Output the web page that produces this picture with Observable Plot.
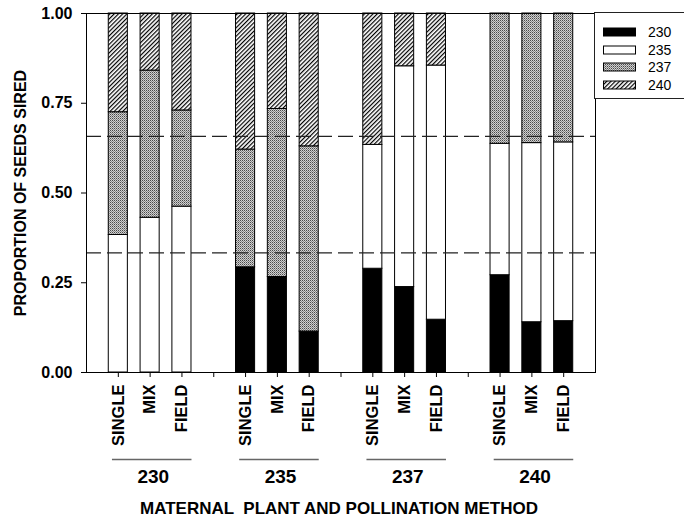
<!DOCTYPE html>
<html>
<head>
<meta charset="utf-8">
<script src="https://cdn.jsdelivr.net/npm/d3@7"></script>
<script src="https://cdn.jsdelivr.net/npm/@observablehq/plot@0.6"></script>
<style>
  body { margin: 0; background: white; }
  #wrap { position: relative; width: 684px; height: 521px; overflow: hidden; font-family: "Liberation Sans", Arial, sans-serif; }
  #legend { position: absolute; left: 594px; top: 12px; width: 110px; height: 87px; border: 1px solid #222; background: white; box-sizing: border-box; }
  .lrow { position: absolute; left: 8px; height: 14px; display: flex; align-items: center; font-size: 14px; color: #000; }
  .lrow svg { margin-right: 12px; display: block; }
</style>
</head>
<body>
<div id="wrap"></div>
<script>
// Data
const groups = ["230", "235", "237", "240"];
const methods = ["SINGLE", "MIX", "FIELD"];
const seriesNames = ["230", "235", "237", "240"];
// proportion of seeds sired by each pollen donor, bars in order 230 S/M/F, 235 S/M/F, 237 S/M/F, 240 S/M/F
const sired230 = [0, 0, 0, 0.293, 0.266, 0.114, 0.289, 0.238, 0.147, 0.271, 0.140, 0.143];
const sired235 = [0.383, 0.431, 0.462, 0, 0, 0, 0.345, 0.615, 0.708, 0.366, 0.499, 0.498];
const sired237 = [0.342, 0.410, 0.268, 0.328, 0.468, 0.516, 0, 0, 0, 0.363, 0.361, 0.359];
const sired240 = [0.275, 0.159, 0.270, 0.379, 0.266, 0.370, 0.366, 0.147, 0.145, 0, 0, 0];
const yTicks = [0, 0.25, 0.5, 0.75, 1];
const refLines = [0.333, 0.658];
const fills = ["black", "white", "url(#stip)", "url(#hatch)"];

const valuesBySeries = [sired230, sired235, sired237, sired240];
const bars = [];
groups.forEach((g, gi) => methods.forEach((m, mi) => bars.push({group: g, method: m, pos: gi * 4 + mi + 1})));
const rows = [];
bars.forEach((b, i) => {
  let cum = 0;
  seriesNames.forEach((s, si) => {
    const v = valuesBySeries[si][i];
    if (v > 0) rows.push({pos: b.pos, series: s, y1: cum, y2: cum + v});
    cum += v;
  });
});
const groupRows = groups.map((g, gi) => ({label: g, center: gi * 4 + 2}));
const allTicks = d3.range(1, 16);
const font = '"Liberation Sans", Arial, sans-serif';

const chart = Plot.plot({
  width: 684,
  height: 521,
  marginLeft: 86,
  marginRight: 89,
  marginTop: 13,
  marginBottom: 149,
  style: {fontFamily: font, background: "white", color: "black"},
  x: {domain: [0, 16], axis: null, label: null},
  y: {domain: [0, 1], axis: null, label: null},
  color: {type: "ordinal", domain: seriesNames, range: fills},
  marks: [
    Plot.rect(rows, {x1: d => d.pos - 0.3, x2: d => d.pos + 0.3, y1: "y1", y2: "y2", fill: "series", stroke: "black", strokeWidth: 1}),
    Plot.ruleY(refLines, {stroke: "#222", strokeWidth: 1.2, strokeDasharray: "15,6"}),
    Plot.frame({stroke: "black", strokeWidth: 1}),
    Plot.axisY({ticks: yTicks, tickFormat: d3.format(".2f"), tickSize: 5, tickPadding: 9, fontSize: 16, fontWeight: "bold", label: null}),
    Plot.axisX({ticks: allTicks, tickFormat: () => "", tickSize: 5, label: null}),
    Plot.text(bars, {x: "pos", y: () => 0, text: "method", rotate: -90, textAnchor: "end", dy: 12, fontSize: 16.5, fontWeight: "bold"}),
    Plot.link(groupRows, {x1: d => d.center - 1.2, x2: d => d.center + 1.3, y1: () => 0, y2: () => 0, dy: 87, stroke: "#666", strokeWidth: 1.5}),
    Plot.text(groupRows, {x: d => d.center + 0.1, y: () => 0, text: "label", dy: 104, fontSize: 19, fontWeight: "bold"}),
    Plot.text(["MATERNAL  PLANT AND POLLINATION METHOD"], {frameAnchor: "bottom", lineAnchor: "middle", dx: -2, dy: 136, fontSize: 17, fontWeight: "bold"}),
    Plot.text(["PROPORTION OF SEEDS SIRED"], {frameAnchor: "left", textAnchor: "middle", lineAnchor: "middle", dx: -66, rotate: -90, fontSize: 16, fontWeight: "bold"})
  ]
});

// patterns
const ns = "http://www.w3.org/2000/svg";
const defs = document.createElementNS(ns, "defs");
defs.innerHTML = `
<pattern id="stip" patternUnits="userSpaceOnUse" width="2" height="2">
  <rect width="2" height="2" fill="#d0d0d0"/>
  <rect x="0" y="0" width="1" height="1" fill="#4a4a4a"/>
  <rect x="1" y="1" width="1" height="1" fill="#888"/>
</pattern>
<pattern id="hatch" patternUnits="userSpaceOnUse" width="3" height="3" patternTransform="rotate(45)">
  <rect width="3" height="3" fill="white"/>
  <line x1="0.6" y1="0" x2="0.6" y2="3" stroke="black" stroke-width="1.2"/>
</pattern>`;
chart.insertBefore(defs, chart.firstChild);

const wrap = document.getElementById("wrap");
wrap.appendChild(chart);

const legend = document.createElement("div");
legend.id = "legend";
seriesNames.forEach((s, i) => {
  const row = document.createElement("div");
  row.className = "lrow";
  row.style.top = (12 + i * 17.6) + "px";
  row.innerHTML = `<svg width="33" height="10"><rect x="0.5" y="1" width="32" height="8" fill="${fills[i]}" stroke="black" stroke-width="1"/></svg><span>${s}</span>`;
  legend.appendChild(row);
});
wrap.appendChild(legend);
</script>
</body>
</html>
